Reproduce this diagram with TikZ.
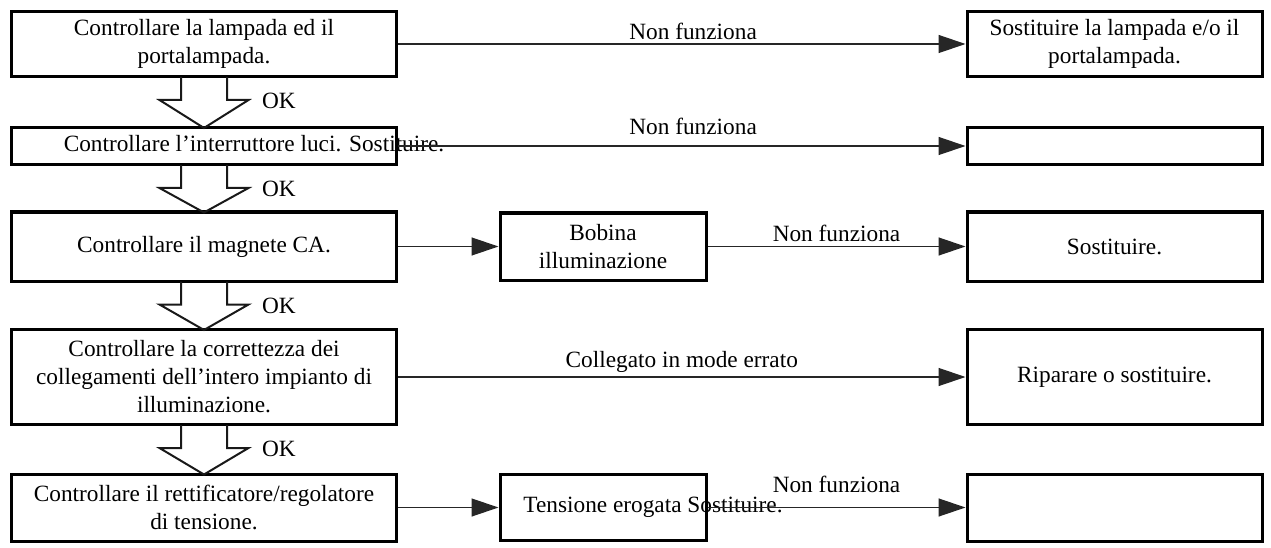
\documentclass[tikz,border=0pt]{standalone}
\usepackage{fontspec}
\setmainfont{Liberation Serif}
\usetikzlibrary{calc,arrows.meta}
\begin{document}
\begin{tikzpicture}[x=1pt,y=-1pt,
  txt/.style={inner sep=0pt,font=\fontsize{23.3}{28}\selectfont,text=black},
  box/.style={txt,draw=black,line width=3pt,align=center},
  lbox/.style={box,minimum width=385pt},
  rbox/.style={box,minimum width=295pt},
  mbox/.style={box,minimum width=206pt},
  conn/.style={line width=1.3pt,draw=black!85,-{Triangle[length=27pt,width=18pt]}},
  lbl/.style={txt,above=4pt},
  hollow/.style={line width=2pt,line join=miter,draw=black!90},
  oklbl/.style={txt}
  ]
\useasboundingbox (0,0) rectangle (1271,548);

% left column
\node[lbox,minimum height=65pt] (L1) at (204,44) {Controllare la lampada ed il\\portalampada.};
\node[lbox,minimum height=37pt] (L2) at (204,146) {};
\node[txt,anchor=center] (L2t) at (254,144) {Controllare l’interruttore luci. Sostituire.};
\node[lbox,minimum height=69pt] (L3) at (204,246.5) {Controllare il magnete CA.};
\node[lbox,minimum height=95pt] (L4) at (204,377) {Controllare la correttezza dei\\collegamenti dell’intero impianto di\\illuminazione.};
\node[lbox,minimum height=67pt] (L5) at (204,507.5) {Controllare il rettificatore/regolatore\\di tensione.};

% middle column
\node[mbox,minimum height=67pt] (M3) at (603,246.5) {Bobina\\illuminazione};
\node[mbox,minimum height=66pt] (M5) at (603,507.5) {};
\node[txt] (M5t) at (653,507) {Tensione erogata Sostituire.};

% right column
\node[rbox,minimum height=65pt] (R1) at (1114.5,44) {Sostituire la lampada e/o il\\portalampada.};
\node[rbox,minimum height=37pt] (R2) at (1114.5,146) {};
\node[rbox,minimum height=69pt] (R3) at (1114.5,246.5) {Sostituire.};
\node[rbox,minimum height=95pt] (R4) at (1114.5,377) {Riparare o sostituire.};
\node[rbox,minimum height=67pt] (R5) at (1114.5,507.5) {};

% horizontal connectors
\draw[conn] (L1.east) -- node[lbl,pos=0.52] {Non funziona} (R1.west);
\draw[conn] (L2.east) -- node[lbl,pos=0.52,above=7pt] {Non funziona} (R2.west);
\draw[conn] (L3.east) -- (M3.west);
\draw[conn] (M3.east) -- node[lbl] {Non funziona} (R3.west);
\draw[conn] (L4.east) -- node[lbl] {Collegato in mode errato} (R4.west);
\draw[conn] (L5.east) -- (M5.west);
\draw[conn] (M5.east) -- node[lbl,above=10pt] {Non funziona} (R5.west);

% hollow down arrows with OK labels
\foreach \a/\b/\n in {L1/L2/1,L2/L3/2,L3/L4/3,L4/L5/4}{
  \draw[hollow] ($(\a.south)+(-23,-1)$) -- ($(\a.south)+(-23,22)$) -- ($(\a.south)+(-44.5,22)$)
     -- ($(\b.north)+(0,2)$) -- ($(\a.south)+(44.5,22)$) -- ($(\a.south)+(23,22)$) -- ($(\a.south)+(23,-1)$);
  \node[oklbl] (ok\n) at ($(\a.south)+(75,23)$) {OK};
}
\end{tikzpicture}
\end{document}
